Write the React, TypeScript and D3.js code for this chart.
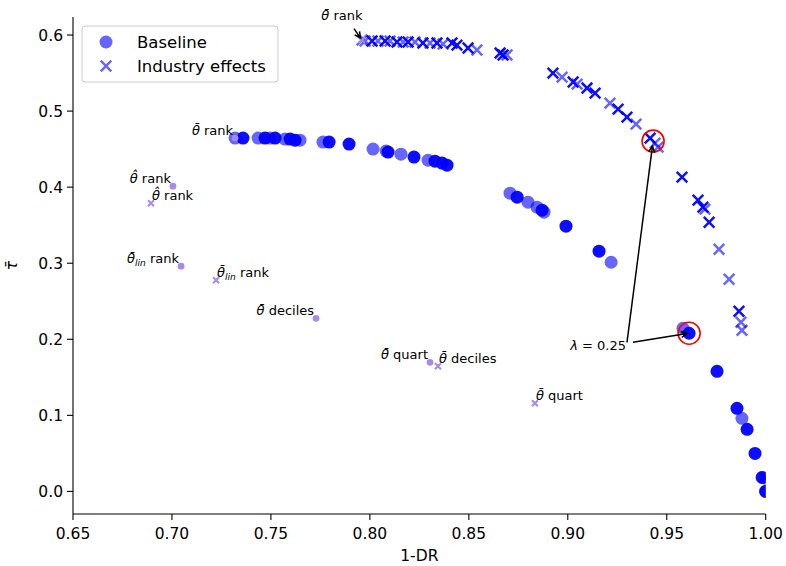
import React, { useEffect } from "react";
import * as d3 from "d3";

// ---------- data ----------
const xTicks = [0.65, 0.7, 0.75, 0.8, 0.85, 0.9, 0.95, 1.0];
const yTicks = [0.0, 0.1, 0.2, 0.3, 0.4, 0.5, 0.6];

// Baseline (circles) – solid and translucent runs
const baselineSolid: [number, number][] = [
  [0.7359, 0.4645], [0.747, 0.4645], [0.7521, 0.4645], [0.7597, 0.4632], [0.7622, 0.4618],
  [0.7794, 0.4592], [0.7895, 0.4566], [0.8092, 0.4461], [0.8223, 0.4395], [0.8329, 0.4342],
  [0.8365, 0.4316], [0.839, 0.4289], [0.8744, 0.3868], [0.887, 0.3697], [0.8991, 0.3487],
  [0.9158, 0.3158], [0.9613, 0.2079], [0.9754, 0.1579], [0.9855, 0.1092], [0.9906, 0.0816],
  [0.9946, 0.05], [0.9982, 0.0184], [1.0, 0.0],
];
const baselineLight: [number, number][] = [
  [0.7319, 0.4645], [0.7435, 0.4645], [0.7495, 0.4645], [0.7571, 0.4632], [0.7647, 0.4618],
  [0.7763, 0.4592], [0.8016, 0.45], [0.8082, 0.4474], [0.8157, 0.4434], [0.8294, 0.4355],
  [0.8708, 0.3921], [0.8799, 0.3803], [0.8845, 0.3737], [0.888, 0.3671], [0.9219, 0.3013],
  [0.9582, 0.2145], [0.988, 0.0961], [1.0, 0.017], [1.0, 0.0],
];

// Industry effects (crosses)
const industrySolid: [number, number][] = [
  [0.8011, 0.5921], [0.8077, 0.5921], [0.8137, 0.5908], [0.8193, 0.5908], [0.8268, 0.5895],
  [0.8339, 0.5895], [0.8415, 0.5895], [0.844, 0.5868], [0.8496, 0.5829], [0.8658, 0.5763],
  [0.8673, 0.5737], [0.8925, 0.55], [0.9027, 0.5382], [0.9097, 0.5303], [0.9138, 0.5237],
  [0.9254, 0.5026], [0.9299, 0.4921], [0.9416, 0.4645], [0.9577, 0.4132], [0.9658, 0.3829],
  [0.9683, 0.3737], [0.9714, 0.3539], [0.9865, 0.2368], [0.9995, 0.0184],
];
const industryLight: [number, number][] = [
  [0.796, 0.5934], [0.7976, 0.5921], [0.8041, 0.5921], [0.8102, 0.5921], [0.8168, 0.5908],
  [0.8228, 0.5908], [0.8304, 0.5895], [0.837, 0.5882], [0.8541, 0.5803], [0.8693, 0.5737],
  [0.8971, 0.5447], [0.9047, 0.5355], [0.9213, 0.5105], [0.9345, 0.4829], [0.9441, 0.4579],
  [0.9456, 0.4526], [0.9693, 0.3711], [0.9764, 0.3184], [0.9815, 0.2789], [0.9875, 0.2224],
  [0.988, 0.2118],
];

// alternative theta variants
const variantNames = ["θ̂ rank", "θ̄_lin rank", "θ̄ deciles", "θ̄ quart", "θ̄ rank"];
const variantBaselineX = [0.7005, 0.7046, 0.7728, 0.8304, 0.7319];
const variantBaselineY = [0.4013, 0.2961, 0.2276, 0.1697, 0.4645];
const variantIndustryX = [0.6894, 0.7223, 0.8344, 0.8834, 0.796];
const variantIndustryY = [0.3789, 0.2776, 0.1645, 0.1158, 0.5934];

// highlighted lambda
const lambdaLabel = "0.25";
const lambdaPoints: [number, number][] = [[0.9431, 0.4605], [0.9613, 0.2079]];
const lambdaTextPos: [number, number] = [0.9294, 0.1921];
const rankArrowTextPos: [number, number] = [0.7859, 0.6255];

const legendLabels = ["Baseline", "Industry effects"];

// ---------- layout ----------
const W = 786, H = 566;
const L = 73, R = 765.7, T = 17, B = 514;
const BLUE = "#0000ff";
const PURPLE = "#a58ae6";
const FONT = "DejaVu Sans, Liberation Sans, sans-serif";

const x = d3.scaleLinear().domain([0.65, 1.0]).range([L, R]);
const y = d3.scaleLinear().domain([-0.0297, 0.6237]).range([B, T]);

const crossPath = (s: number) => `M${-s},${-s}L${s},${s}M${-s},${s}L${s},${-s}`;

function MathLabel({ text, px, py, anchor, size = 13 }: { text: string; px: number; py: number; anchor: "start" | "end" | "middle"; size?: number }) {
  const sp = text.indexOf(" ");
  let sym = text.slice(0, sp);
  const rest = text.slice(sp);
  let sub = "";
  if (sym.includes("_")) {
    const parts = sym.split("_");
    sym = parts[0];
    sub = parts[1];
  }
  return (
    <text x={px} y={py} textAnchor={anchor} fontFamily={FONT} fontSize={size} fill="#000">
      <tspan fontStyle="italic">{sym}</tspan>
      {sub ? (
        <>
          <tspan fontStyle="italic" fontSize={size * 0.7} dy={3}>{sub}</tspan>
          <tspan dy={-3}>{rest}</tspan>
        </>
      ) : (
        <tspan>{rest}</tspan>
      )}
    </text>
  );
}

function Arrow({ x1, y1, x2, y2 }: { x1: number; y1: number; x2: number; y2: number }) {
  const a = Math.atan2(y2 - y1, x2 - x1);
  const hl = 6, hw = 3;
  const bx = x2 - hl * Math.cos(a), by = y2 - hl * Math.sin(a);
  const p1 = [bx + hw * Math.sin(a), by - hw * Math.cos(a)];
  const p2 = [bx - hw * Math.sin(a), by + hw * Math.cos(a)];
  return (
    <g stroke="#000" strokeWidth={1.5} fill="none">
      <line x1={x1} y1={y1} x2={x2} y2={y2} />
      <polyline points={`${p1[0]},${p1[1]} ${x2},${y2} ${p2[0]},${p2[1]}`} />
    </g>
  );
}

export default function App() {
  useEffect(() => {
    document.body.style.margin = "0";
  }, []);

  const shrinkTo = (sx: number, sy: number, tx: number, ty: number, d: number) => {
    const len = Math.hypot(tx - sx, ty - sy);
    return [tx - ((tx - sx) / len) * d, ty - ((ty - sy) / len) * d];
  };

  const ltx = x(lambdaTextPos[0]);
  const lty = y(lambdaTextPos[1]);
  const rtx = x(rankArrowTextPos[0]);
  const rty = y(rankArrowTextPos[1]);
  const rankIdx = variantNames.indexOf("θ̄ rank");

  return (
    <svg width={W} height={H} style={{ display: "block", position: "absolute", left: 0, top: 0 }} fontFamily={FONT}>
      <rect width={W} height={H} fill="#fff" />
      <defs>
        <clipPath id="plotclip">
          <rect x={L} y={T} width={R - L} height={B - T} />
        </clipPath>
      </defs>

      <g clipPath="url(#plotclip)">
        {baselineLight.map((d, i) => (
          <circle key={"bl" + i} cx={x(d[0])} cy={y(d[1])} r={6.5} fill={BLUE} opacity={0.6} />
        ))}
        {baselineSolid.map((d, i) => (
          <circle key={"bs" + i} cx={x(d[0])} cy={y(d[1])} r={6.5} fill={BLUE} opacity={0.95} />
        ))}
        {industryLight.map((d, i) => (
          <path key={"il" + i} d={crossPath(5.3)} transform={`translate(${x(d[0])},${y(d[1])})`} stroke={BLUE} strokeWidth={2.5} fill="none" opacity={0.6} />
        ))}
        {industrySolid.map((d, i) => (
          <path key={"is" + i} d={crossPath(5.3)} transform={`translate(${x(d[0])},${y(d[1])})`} stroke={BLUE} strokeWidth={2.5} fill="none" opacity={0.95} />
        ))}
        {variantBaselineX.map((v, i) => (
          <circle key={"vb" + i} cx={x(v)} cy={y(variantBaselineY[i])} r={3.4} fill={PURPLE} />
        ))}
        {variantIndustryX.map((v, i) => (
          <path key={"vi" + i} d={crossPath(3)} transform={`translate(${x(v)},${y(variantIndustryY[i])})`} stroke={PURPLE} strokeWidth={2} fill="none" />
        ))}
        {lambdaPoints.map((d, i) => (
          <circle key={"lp" + i} cx={x(d[0])} cy={y(d[1])} r={11} fill="none" stroke="#ff0000" strokeWidth={1.6} />
        ))}
      </g>

      {/* variant labels */}
      {variantNames.map((n, i) => (
        <MathLabel key={"lb" + i} text={n} px={x(variantBaselineX[i]) - 2} py={y(variantBaselineY[i]) - 3.3} anchor="end" />
      ))}
      {variantNames.map((n, i) =>
        i === rankIdx ? null : (
          <MathLabel key={"li" + i} text={n} px={x(variantIndustryX[i]) + 1} py={y(variantIndustryY[i]) - 3.5} anchor="start" />
        )
      )}

      {/* rank arrow annotation */}
      <MathLabel text={variantNames[rankIdx]} px={rtx} py={rty + 4.5} anchor="middle" />
      {(() => {
        const tx = x(variantIndustryX[rankIdx]);
        const ty = y(variantIndustryY[rankIdx]);
        const sx = rtx + 12, sy = rty + 13;
        const [ex, ey] = shrinkTo(sx, sy, tx, ty, 2.5);
        return <Arrow x1={sx} y1={sy} x2={ex} y2={ey} />;
      })()}

      {/* lambda annotation */}
      <text x={ltx} y={lty + 4.5} textAnchor="end" fontFamily={FONT} fontSize={13}>
        <tspan fontStyle="italic">λ</tspan>
        <tspan> = {lambdaLabel}</tspan>
      </text>
      {lambdaPoints.map((d, i) => {
        const sx = ltx + (i === 0 ? 1 : 7);
        const sy = lty - 3;
        const [ex, ey] = shrinkTo(sx, sy, x(d[0]), y(d[1]), i === 0 ? 5 : 2);
        return <Arrow key={"la" + i} x1={sx} y1={sy} x2={ex} y2={ey} />;
      })}

      {/* axes */}
      <g stroke="#000" strokeWidth={1.1}>
        <line x1={L} y1={T} x2={L} y2={B} />
        <line x1={L} y1={B} x2={R} y2={B} />
        {xTicks.map((t) => (
          <line key={"xt" + t} x1={x(t)} x2={x(t)} y1={B} y2={B + 6} />
        ))}
        {yTicks.map((t) => (
          <line key={"yt" + t} x1={L - 6} x2={L} y1={y(t)} y2={y(t)} />
        ))}
      </g>
      {xTicks.map((t) => (
        <text key={"xl" + t} x={x(t)} y={539} textAnchor="middle" fontSize={15.5} fill="#000">
          {d3.format(".2f")(t)}
        </text>
      ))}
      {yTicks.map((t) => (
        <text key={"yl" + t} x={L - 10} y={y(t) + 5.5} textAnchor="end" fontSize={15.5} fill="#000">
          {d3.format(".1f")(t)}
        </text>
      ))}
      <text x={(L + R) / 2} y={561} textAnchor="middle" fontSize={15.5}>1-DR</text>
      <text transform={`translate(17,${(T + B) / 2}) rotate(-90)`} textAnchor="middle" fontSize={15.5} fontStyle="italic">τ̄</text>

      {/* legend */}
      <rect x={82} y={26} width={196} height={56} rx={3} fill="#fff" fillOpacity={0.8} stroke="#cccccc" strokeWidth={1} />
      <circle cx={106} cy={42} r={6.5} fill={BLUE} opacity={0.6} />
      <path d={crossPath(5.3)} transform="translate(106,66)" stroke={BLUE} strokeWidth={2.5} opacity={0.6} fill="none" />
      <text x={137} y={47.5} fontSize={16.5}>{legendLabels[0]}</text>
      <text x={137} y={71.5} fontSize={16.5}>{legendLabels[1]}</text>
    </svg>
  );
}
